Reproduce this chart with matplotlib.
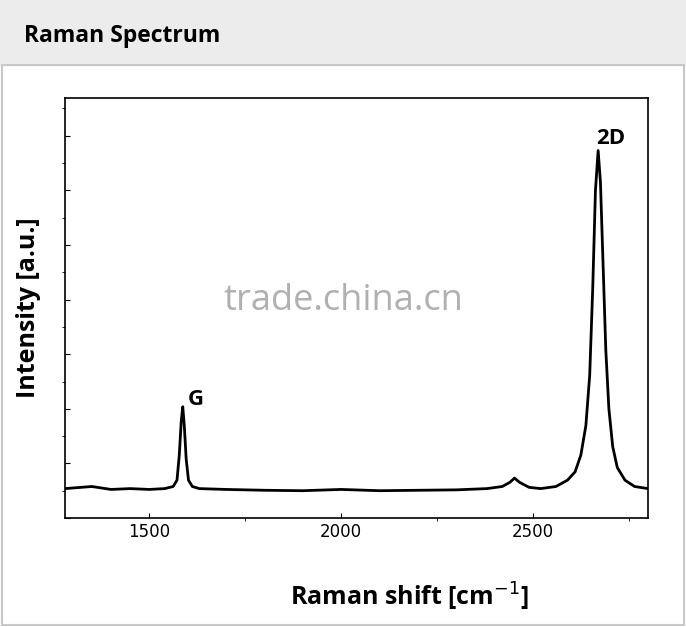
import matplotlib
matplotlib.use("Agg")
import matplotlib.pyplot as plt
from matplotlib.patches import Rectangle
from matplotlib.ticker import MultipleLocator

shift = [1280,1350,1400,1450,1500,1540,1562,1572,1578,1583,1587,1591,1596,1602,1612,1630,1700,1800,1900,2000,2100,2200,2300,2380,2420,2440,2452,2465,2490,2520,2560,2590,2610,2625,2638,2648,2656,2663,2670,2676,2683,2690,2698,2708,2720,2740,2765,2800]
inten = [.07,.075,.068,.07,.068,.07,.075,.09,.15,.23,.265,.22,.14,.09,.075,.07,.068,.066,.065,.068,.065,.066,.067,.07,.075,.085,.095,.085,.073,.07,.075,.09,.11,.15,.22,.34,.55,.78,.875,.8,.6,.4,.26,.17,.12,.09,.075,.07]

fig = plt.figure(figsize=(6.86,6.27), dpi=100)
fig.patches.append(Rectangle((0,1-65/627),1,65/627, transform=fig.transFigure, color="#ececec", zorder=0))
fig.patches.append(Rectangle((0.003,0.003),0.994,1-65/627-0.003, transform=fig.transFigure, fill=False, edgecolor="#c8c8c8", lw=1.5))
fig.text(24/686, 1-36/627, "Raman Spectrum", fontsize=16.5, fontweight="bold", va="center", family="Open Sans")

ax = fig.add_axes([65/686, 109/627, 583/686, 420/627])
ax.plot(shift, inten, color="black", lw=2)
ax.set_xlim(1280, 2800)
ax.set_ylim(0, 1)
ax.xaxis.set_major_locator(MultipleLocator(500))
ax.xaxis.set_minor_locator(MultipleLocator(250))
ax.yaxis.set_major_locator(MultipleLocator(0.13))
ax.yaxis.set_minor_locator(MultipleLocator(0.065))
ax.set_yticklabels([])
ax.tick_params(axis="x", labelsize=12, direction="in")
ax.tick_params(axis="y", direction="in")
for s in ax.spines.values():
    s.set_linewidth(1.2)
ax.set_xlabel("Raman shift [cm$^{-1}$]", fontsize=18, fontweight="bold", family="Open Sans", labelpad=20)
ax.xaxis.set_label_coords(0.59, -0.15)
ax.set_ylabel("Intensity [a.u.]", fontsize=18, fontweight="bold", family="Open Sans", labelpad=12)
ax.text(1600, 0.27, "G", fontsize=16, fontweight="bold", family="Open Sans")
ax.text(2665, 0.89, "2D", fontsize=16, fontweight="bold", family="Open Sans")
fig.text(0.5, 0.52, "trade.china.cn", fontsize=26, color="#b0b0b0", ha="center", va="center", family="Open Sans")
fig.savefig("out.png", dpi=100)
